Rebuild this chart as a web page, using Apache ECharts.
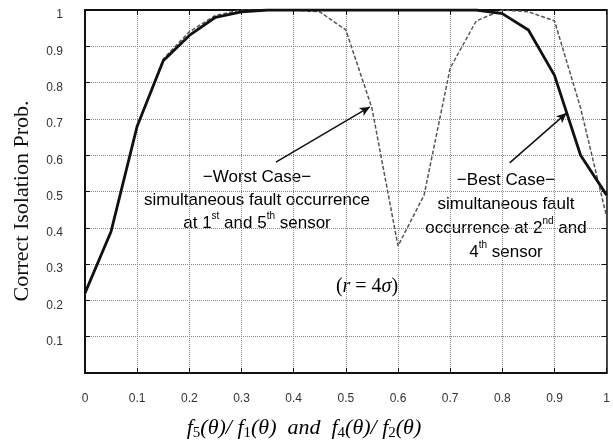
<!DOCTYPE html>
<html>
<head>
<meta charset="utf-8">
<script src="https://cdn.jsdelivr.net/npm/echarts@6/dist/echarts.min.js"></script>
<style>
  html, body { margin: 0; padding: 0; background: #fff; }
  #chart { width: 613px; height: 446px; }
</style>
</head>
<body>
<div id="chart"></div>
<script>
// x positions (ratio) and the two isolation-probability curves
const ratios = [0, 0.05, 0.1, 0.15, 0.2, 0.25, 0.3, 0.35, 0.4, 0.45, 0.5,
                0.55, 0.6, 0.65, 0.7, 0.75, 0.8, 0.85, 0.9, 0.95, 1]
const bestCase = [0.22, 0.39, 0.68, 0.86, 0.93, 0.98, 0.995, 1, 1, 1, 1,
                  1, 1, 1, 1, 1, 0.99, 0.945, 0.82, 0.60, 0.49]
const worstCase = [0.22, 0.39, 0.68, 0.865, 0.94, 0.985, 1, 1, 1, 0.995, 0.945,
                   0.73, 0.35, 0.49, 0.84, 0.97, 1, 0.995, 0.97, 0.73, 0.43]
// arrows: [from, to] in data coords
const worstArrow = [[0.366, 0.581], [0.546, 0.733]]
const bestArrow = [[0.814, 0.579], [0.923, 0.716]]

const chart = echarts.init(document.getElementById('chart'))

const tickFont = { fontFamily: 'Liberation Sans, Arial, sans-serif', fontSize: 12, color: '#333' }
const frameLine = { show: true, onZero: false, lineStyle: { color: '#111', width: 2 } }
const noteFont = 'Liberation Sans, Arial, sans-serif'
const serif = 'Liberation Serif, Times New Roman, serif'

const supRich = {
  n: { fontFamily: noteFont, fontSize: 17, color: '#222', lineHeight: 23 },
  s: { fontFamily: noteFont, fontSize: 10, color: '#222', lineHeight: 23, verticalAlign: 'top', padding: [0, 0, 8, 0] }
}

const option = {
  animation: false,
  backgroundColor: '#fff',
  grid: { left: 85, right: 6, top: 10, bottom: 73 },
  xAxis: [
    {
      type: 'value', min: 0, max: 1, interval: 0.1,
      axisLine: frameLine,
      axisTick: { show: true, inside: true, length: 5, lineStyle: { color: '#111' } },
      axisLabel: Object.assign({ margin: 20 }, tickFont),
      splitLine: { show: true, lineStyle: { color: '#888', type: 'dotted', width: 1 } }
    },
    {
      type: 'value', min: 0, max: 1, interval: 0.1, position: 'top',
      axisLine: frameLine,
      axisTick: { show: true, inside: true, length: 5, lineStyle: { color: '#111' } },
      axisLabel: { show: false },
      splitLine: { show: false }
    }
  ],
  yAxis: [
    {
      type: 'value', min: 0, max: 1, interval: 0.1,
      axisLine: frameLine,
      axisTick: { show: true, inside: true, length: 5, lineStyle: { color: '#111' } },
      axisLabel: Object.assign({
        margin: 22,
        verticalAlign: 'top',
        lineHeight: 10,
        formatter: v => (v === 0 ? '' : String(+v.toFixed(1)))
      }, tickFont),
      splitLine: { show: true, lineStyle: { color: '#888', type: 'dotted', width: 1 } }
    },
    {
      type: 'value', min: 0, max: 1, interval: 0.1, position: 'right',
      axisLine: { show: true, onZero: false, lineStyle: { color: '#111', width: 1.5 } },
      axisTick: { show: true, inside: true, length: 5, lineStyle: { color: '#111' } },
      axisLabel: { show: false },
      splitLine: { show: false }
    }
  ],
  series: [
    {
      name: 'worst',
      type: 'line',
      data: ratios.map((x, i) => [x, worstCase[i]]),
      showSymbol: false,
      lineStyle: { color: '#555', width: 1.5, type: [4, 2] },
      z: 2
    },
    {
      name: 'best',
      type: 'line',
      data: ratios.map((x, i) => [x, bestCase[i]]),
      showSymbol: false,
      lineStyle: { color: '#111', width: 2.8 },
      z: 3,
      markLine: {
        silent: true,
        symbol: ['none', 'arrow'],
        symbolSize: [7, 10],
        label: { show: false },
        lineStyle: { color: '#111', width: 1.5, type: 'solid' },
        data: [
          [{ coord: worstArrow[0] }, { coord: worstArrow[1] }],
          [{ coord: bestArrow[0] }, { coord: bestArrow[1] }]
        ]
      }
    }
  ],
  graphic: [
    {
      type: 'text', x: 22, y: 201, rotation: Math.PI / 2,
      style: {
        text: 'Correct Isolation Prob.',
        font: '22px ' + serif, fill: '#111',
        align: 'center', verticalAlign: 'middle'
      }
    },
    {
      type: 'text', x: 304, y: 428,
      style: {
        text: '{i|f}{s|5}{i|(θ)/ f}{s|1}{i|(θ)  and  f}{s|4}{i|(θ)/ f}{s|2}{i|(θ)}',
        align: 'center', verticalAlign: 'middle',
        rich: {
          i: { fontFamily: serif, fontStyle: 'italic', fontSize: 22, color: '#111', lineHeight: 26 },
          s: { fontFamily: serif, fontSize: 15, color: '#111', lineHeight: 12, verticalAlign: 'bottom' }
        }
      }
    },
    {
      type: 'text', x: 257, y: 200,
      style: {
        text: '{n|−Worst Case−}\n{n|simultaneous fault occurrence}\n{n|at 1}{s|st}{n| and 5}{s|th}{n| sensor}',
        align: 'center', verticalAlign: 'middle',
        rich: supRich
      }
    },
    {
      type: 'text', x: 506, y: 216,
      style: {
        text: '{n|−Best Case−}\n{n|simultaneous fault}\n{n|occurrence at 2}{s|nd}{n| and}\n{n|4}{s|th}{n| sensor}',
        align: 'center', verticalAlign: 'middle',
        rich: {
          n: { fontFamily: noteFont, fontSize: 17, color: '#222', lineHeight: 24 },
          s: { fontFamily: noteFont, fontSize: 10, color: '#222', lineHeight: 24, verticalAlign: 'top', padding: [0, 0, 8, 0] }
        }
      }
    },
    {
      type: 'text', x: 367, y: 287,
      style: {
        text: '{u|(}{i|r}{u| = 4}{i|σ}{u|)}',
        align: 'center', verticalAlign: 'middle',
        rich: {
          u: { fontFamily: serif, fontSize: 20, color: '#111' },
          i: { fontFamily: serif, fontStyle: 'italic', fontSize: 20, color: '#111' }
        }
      }
    }
  ]
}

chart.setOption(option)
</script>
</body>
</html>
